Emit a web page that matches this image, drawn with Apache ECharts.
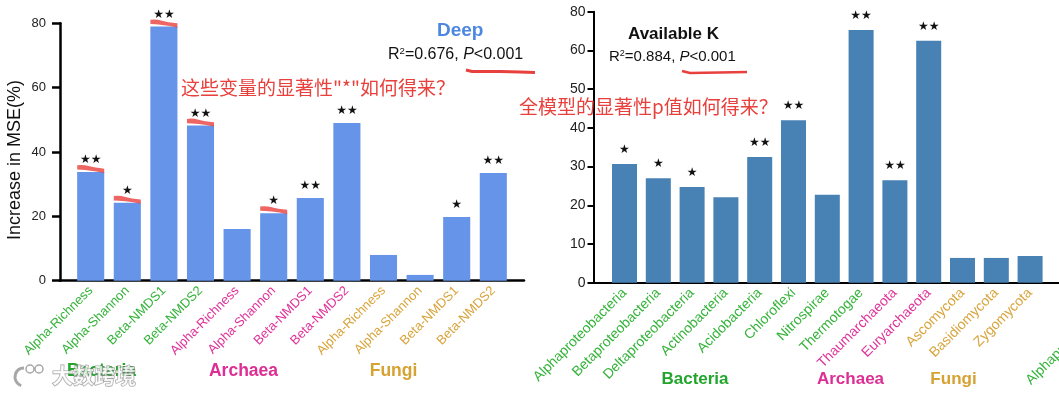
<!DOCTYPE html>
<html>
<head>
<meta charset="utf-8">
<script src="https://cdn.jsdelivr.net/npm/echarts@6/dist/echarts.min.js"></script>
<style>
  html, body { margin: 0; padding: 0; background: #fff; }
  #chart { width: 1059px; height: 393px; }
</style>
</head>
<body>
<div id="chart"></div>
<script>
// left panel: Deep
const deepCategories = ["Alpha-Richness", "Alpha-Shannon", "Beta-NMDS1", "Beta-NMDS2",
  "Alpha-Richness", "Alpha-Shannon", "Beta-NMDS1", "Beta-NMDS2",
  "Alpha-Richness", "Alpha-Shannon", "Beta-NMDS1", "Beta-NMDS2"];
const deepGroups = ["Bacteria", "Bacteria", "Bacteria", "Bacteria",
  "Archaea", "Archaea", "Archaea", "Archaea",
  "Fungi", "Fungi", "Fungi", "Fungi"];
const deepValues = [33.8, 24.2, 79.0, 48.2, 16.1, 21.0, 25.7, 49.0, 8.0, 1.8, 19.8, 33.5];
const deepStars = ["**", "*", "**", "**", "", "*", "**", "**", "", "", "*", "**"];
const deepMarked = [0, 1, 2, 3, 5]; // stars underlined in red
const deepTicks = [0, 20, 40, 60, 80];

// right panel: Available K
const kCategories = ["Alphaproteobacteria", "Betaproteobacteria", "Deltaproteobacteria",
  "Actinobacteria", "Acidobacteria", "Chloroflexi", "Nitrospirae", "Thermotogae",
  "Thaumarchaeota", "Euryarchaeota", "Ascomycota", "Basidiomycota", "Zygomycota"];
const kGroups = ["Bacteria", "Bacteria", "Bacteria", "Bacteria", "Bacteria", "Bacteria",
  "Bacteria", "Bacteria", "Archaea", "Archaea", "Fungi", "Fungi", "Fungi"];
const kValues = [30.7, 27.0, 24.7, 22.1, 32.5, 42.0, 22.7, 65.3, 26.5, 62.5, 6.4, 6.4, 6.9];
const kStars = ["*", "*", "*", "", "**", "**", "", "**", "**", "**", "", "", ""];
const kTickLabels = ["0", "10", "20", "30", "40", "50", "60", "80"];

const groupNames = ["Bacteria", "Archaea", "Fungi"];

const labelColors = { Bacteria: "#35b33a", Archaea: "#e0329a", Fungi: "#d8a43c" };
const groupColors = { Bacteria: "#22a52c", Archaea: "#dc2e94", Fungi: "#d6a232" };
const RED = "#e8403c";
const FONT = "Liberation Sans";
const CJK = "Noto Sans CJK SC";

// hand drawn red stroke, as a filled band
const squiggle = "path://M0,0 Q6,-1 12,1 T28,4 L28,9 Q20,7 12,6 T0,5 Z";

// stars drawn as small filled five-point stars
const starText = (s) => s.replace(/\*/g, "★");

function frameX(grid, width) {
  return {
    gridIndex: grid, type: "value", min: 0, max: 1,
    axisLine: { show: true, lineStyle: { color: "#000", width: width } },
    axisTick: { show: false }, axisLabel: { show: false }, splitLine: { show: false }
  };
}

function catX(grid, cats, groups, size) {
  return {
    gridIndex: grid, type: "category", data: cats,
    axisLine: { show: false }, axisTick: { show: false },
    axisLabel: {
      interval: 0, rotate: 45, margin: 8, fontSize: size, fontFamily: FONT,
      color: (v, i) => labelColors[groups[i]]
    }
  };
}

function hiddenY(grid, max) {
  return { gridIndex: grid, type: "value", min: 0, max: max, show: false, splitLine: { show: false } };
}

function statText(x, y, r2, size) {
  return {
    type: "text", x: x, y: y,
    style: {
      text: "{a|R}{s|2}{a|=" + r2 + ", }{i|P}{a|<0.001}",
      verticalAlign: "middle",
      rich: {
        a: { fontSize: size, fontFamily: FONT, fill: "#111" },
        s: { fontSize: size * 0.6, fontFamily: FONT, fill: "#111", verticalAlign: "top", padding: [0, 0, size * 0.45, 0] },
        i: { fontSize: size, fontFamily: FONT, fill: "#111", fontStyle: "italic" }
      }
    }
  };
}

function groupText(name, x, y, size) {
  return {
    type: "text", x: x, y: y,
    style: {
      text: name, align: "center", verticalAlign: "middle",
      fontSize: size, fontWeight: "bold", fontFamily: FONT, fill: groupColors[name]
    }
  };
}

const chart = echarts.init(document.getElementById("chart"));

const option = {
  animation: false,
  backgroundColor: "#fff",
  grid: [
    { left: 60, top: 23.3, width: 464, height: 257.4 },
    { left: 72.4, top: 23.3, width: 439.2, height: 257.4 },
    { left: 593.5, top: 11.8, width: 470, height: 270.9 },
    { left: 607.6, top: 11.8, width: 439.4, height: 270.9 }
  ],
  xAxis: [
    frameX(0, 2.5),
    catX(1, deepCategories, deepGroups, 13),
    frameX(2, 2),
    catX(3, kCategories, kGroups, 14)
  ],
  yAxis: [
    {
      gridIndex: 0, type: "value", min: deepTicks[0], max: deepTicks[deepTicks.length - 1],
      interval: deepTicks[1] - deepTicks[0],
      name: "Increase in MSE(%)", nameLocation: "middle", nameGap: 36,
      nameTextStyle: { fontSize: 18, fontFamily: FONT, color: "#111", padding: [0, 16, 0, 0] },
      axisLine: { show: true, lineStyle: { color: "#000", width: 2.5 } },
      axisTick: { show: true, length: 8, lineStyle: { color: "#000", width: 2.5 } },
      axisLabel: { fontSize: 13, fontFamily: FONT, color: "#222", margin: 14 },
      splitLine: { show: false }
    },
    hiddenY(1, 80),
    {
      gridIndex: 2, type: "value", min: 0, max: 70, interval: 10,
      axisLine: { show: true, lineStyle: { color: "#000", width: 2 } },
      axisTick: { show: true, length: 6, lineStyle: { color: "#000", width: 2 } },
      axisLabel: {
        fontSize: 14, fontFamily: FONT, color: "#222", margin: 8,
        formatter: (v) => kTickLabels[Math.round(v / 10)]
      },
      splitLine: { show: false }
    },
    hiddenY(3, 70)
  ],
  series: [
    {
      type: "bar", xAxisIndex: 1, yAxisIndex: 1, data: deepValues, barWidth: "74%",
      itemStyle: { color: "#6594e8" },
      label: {
        show: true, position: "top", distance: 6, fontSize: 12, fontFamily: "DejaVu Sans", color: "#111",
        formatter: (p) => starText(deepStars[p.dataIndex])
      }
    },
    {
      type: "scatter", xAxisIndex: 1, yAxisIndex: 1, z: 5,
      data: deepMarked.map((i) => [i, deepValues[i]]),
      symbol: squiggle, symbolSize: [27, 8], symbolOffset: [0, -3], symbolKeepAspect: false,
      itemStyle: { color: RED }
    },
    {
      type: "bar", xAxisIndex: 3, yAxisIndex: 3, data: kValues, barWidth: "74%",
      itemStyle: { color: "#4881b4" },
      label: {
        show: true, position: "top", distance: 8, fontSize: 12, fontFamily: "DejaVu Sans", color: "#111",
        formatter: (p) => starText(kStars[p.dataIndex])
      }
    }
  ],
  graphic: [
    { type: "text", x: 437, y: 31, style: { text: "Deep", verticalAlign: "middle", fontSize: 19, fontWeight: "bold", fontFamily: FONT, fill: "#4c87e2" } },
    statText(388, 54.5, "0.676", 16),
    { type: "text", x: 628, y: 34, style: { text: "Available K", verticalAlign: "middle", fontSize: 17, fontWeight: "bold", fontFamily: FONT, fill: "#111" } },
    statText(609, 57, "0.884", 15),
    { type: "text", x: 181, y: 87.5, z: 10, style: { text: "这些变量的显著性\"*\"如何得来？", verticalAlign: "middle", fontSize: 19, fontFamily: CJK, fill: RED } },
    { type: "text", x: 519, y: 107, z: 10, style: { text: "全模型的显著性p值如何得来？", verticalAlign: "middle", fontSize: 19, fontFamily: CJK, fill: RED } },
    { type: "polyline", z: 10, shape: { points: [[466, 70], [472, 71.5], [500, 71.5], [520, 72], [535, 72.5]] }, style: { stroke: RED, lineWidth: 3, fill: null } },
    { type: "polyline", z: 10, shape: { points: [[682, 71], [690, 73], [720, 72.5], [747, 72]] }, style: { stroke: RED, lineWidth: 2.5, fill: null } },
    groupText(groupNames[0], 101.5, 371.5, 17.5),
    groupText(groupNames[1], 243.5, 371.5, 17.5),
    groupText(groupNames[2], 393.5, 371.5, 17.5),
    groupText(groupNames[0], 695, 379.5, 17),
    groupText(groupNames[1], 850.5, 379.5, 17),
    groupText(groupNames[2], 953.5, 379.5, 17),
    // first label of the next panel, cut by the picture edge
    { type: "text", x: 1117, y: 294, rotation: Math.PI / 4, style: { text: kCategories[0], align: "right", verticalAlign: "middle", fontSize: 14, fontFamily: FONT, fill: labelColors.Bacteria } },
    // watermark
    { type: "circle", z: 20, shape: { cx: 30, cy: 369, r: 4 }, style: { fill: "rgba(255,255,255,0.8)", stroke: "rgba(130,130,130,0.7)", lineWidth: 1.5 } },
    { type: "circle", z: 20, shape: { cx: 39, cy: 369, r: 4 }, style: { fill: "rgba(255,255,255,0.8)", stroke: "rgba(130,130,130,0.7)", lineWidth: 1.5 } },
    { type: "arc", z: 20, shape: { cx: 24, cy: 377, r: 9, startAngle: Math.PI * 0.6, endAngle: Math.PI * 1.5 }, style: { stroke: "rgba(130,130,130,0.7)", lineWidth: 3, fill: null } },
    { type: "text", x: 52, y: 375, z: 20, style: { text: "大数跨境", verticalAlign: "middle", fontSize: 21, fontWeight: "bold", fontFamily: CJK, fill: "rgba(255,255,255,0.75)", stroke: "rgba(120,120,120,0.7)", lineWidth: 1.2 } }
  ]
};

chart.setOption(option);
</script>
</body>
</html>
